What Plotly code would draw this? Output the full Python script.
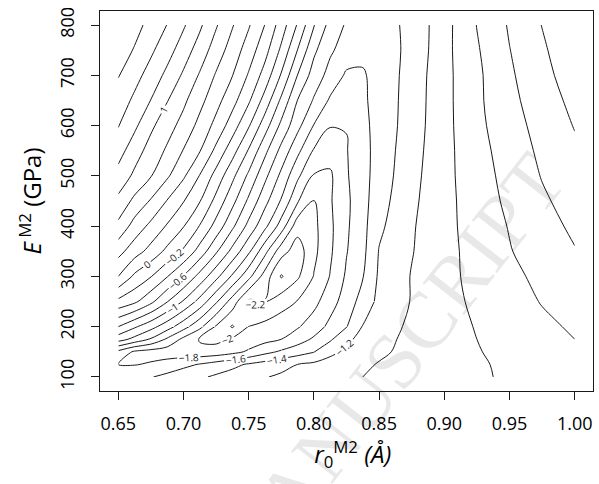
import plotly.graph_objects as go

# grid of r0 (Angstrom) and E (GPa); values estimated from the reference contours
r0 = [0.65, 0.6625, 0.675, 0.6875, 0.70, 0.7125, 0.725, 0.7375, 0.75, 0.7625, 0.775,
      0.7875, 0.80, 0.8125, 0.825, 0.8375, 0.85, 0.875, 0.90, 0.925, 0.95, 0.975, 1.00]
E = [100, 125, 150, 175, 200, 250, 300, 350, 400, 450, 500, 550, 600, 650, 700, 750, 800]

z_E100 = [-1.70, -1.65, -1.61, -1.55, -1.49, -1.43, -1.37, -1.32, -1.26, -1.21, -1.17, -1.14, -1.10, -1.07, -1.03, -1.00, -0.97, -0.92, -0.87, -0.82, -0.78, -0.74, -0.70]
z_E125 = [-1.80, -1.81, -1.78, -1.72, -1.65, -1.59, -1.52, -1.45, -1.38, -1.32, -1.26, -1.20, -1.16, -1.12, -1.07, -1.03, -0.99, -0.93, -0.88, -0.82, -0.77, -0.72, -0.67]
z_E150 = [-1.65, -1.83, -1.88, -1.91, -1.93, -1.94, -1.92, -1.86, -1.77, -1.66, -1.57, -1.49, -1.41, -1.25, -1.16, -1.09, -1.03, -0.95, -0.88, -0.81, -0.75, -0.69, -0.63]
z_E175 = [-1.11, -1.26, -1.42, -1.63, -1.85, -2.02, -2.05, -1.97, -1.92, -1.86, -1.80, -1.69, -1.57, -1.43, -1.24, -1.14, -1.06, -0.95, -0.88, -0.80, -0.73, -0.67, -0.60]
z_E200 = [-0.80, -0.97, -1.13, -1.31, -1.52, -1.75, -2.02, -2.22, -1.99, -1.94, -1.88, -1.82, -1.70, -1.55, -1.41, -1.19, -1.10, -0.96, -0.87, -0.79, -0.71, -0.64, -0.575]
z_E250 = [-0.25, -0.36, -0.55, -0.79, -1.02, -1.27, -1.57, -1.89, -2.24, -2.21, -2.09, -1.99, -1.86, -1.68, -1.51, -1.32, -1.15, -0.99, -0.87, -0.76, -0.68, -0.59, -0.52]
z_E300 = [0.20, -0.04, -0.19, -0.39, -0.61, -0.87, -1.14, -1.43, -1.74, -2.09, -2.42, -2.23, -1.99, -1.79, -1.57, -1.41, -1.17, -0.99, -0.86, -0.74, -0.65, -0.55, -0.465]
z_E350 = [0.47, 0.29, 0.13, -0.05, -0.23, -0.48, -0.77, -1.06, -1.36, -1.74, -2.12, -2.30, -2.05, -1.83, -1.61, -1.45, -1.19, -1.01, -0.86, -0.73, -0.61, -0.51, -0.41]
z_E400 = [0.75, 0.52, 0.35, 0.18, 0.01, -0.21, -0.47, -0.76, -1.06, -1.35, -1.69, -2.12, -2.05, -1.84, -1.63, -1.46, -1.24, -1.02, -0.86, -0.71, -0.59, -0.47, -0.365]
z_E450 = [0.95, 0.75, 0.58, 0.39, 0.21, 0.01, -0.26, -0.54, -0.84, -1.14, -1.42, -1.78, -2.01, -1.82, -1.64, -1.47, -1.28, -1.04, -0.86, -0.70, -0.56, -0.43, -0.32]
z_E500 = [1.13, 0.96, 0.81, 0.63, 0.43, 0.19, -0.07, -0.35, -0.64, -0.95, -1.25, -1.56, -1.82, -1.83, -1.62, -1.47, -1.31, -1.06, -0.86, -0.68, -0.54, -0.39, -0.28]
z_E550 = [1.28, 1.09, 0.92, 0.77, 0.59, 0.41, 0.15, -0.12, -0.42, -0.75, -1.06, -1.35, -1.62, -1.72, -1.61, -1.47, -1.32, -1.08, -0.86, -0.67, -0.51, -0.36, -0.235]
z_E600 = [1.41, 1.24, 1.04, 0.88, 0.73, 0.54, 0.34, 0.10, -0.18, -0.51, -0.85, -1.14, -1.41, -1.59, -1.595, -1.45, -1.33, -1.10, -0.86, -0.65, -0.48, -0.33, -0.19]
z_E650 = [1.51, 1.36, 1.195, 1.01, 0.84, 0.66, 0.47, 0.27, 0.03, -0.28, -0.64, -1.005, -1.22, -1.43, -1.51, -1.43, -1.33, -1.11, -0.86, -0.64, -0.45, -0.30, -0.145]
z_E700 = [1.61, 1.47, 1.32, 1.15, 0.97, 0.78, 0.58, 0.405, 0.18, -0.08, -0.42, -0.805, -1.09, -1.27, -1.43, -1.42, -1.33, -1.12, -0.86, -0.64, -0.43, -0.26, -0.10]
z_E750 = [1.70, 1.585, 1.435, 1.28, 1.10, 0.91, 0.705, 0.51, 0.305, 0.07, -0.24, -0.605, -0.96, -1.17, -1.29, -1.355, -1.30, -1.15, -0.86, -0.62, -0.405, -0.23, -0.06]
z_E800 = [1.78, 1.665, 1.54, 1.395, 1.225, 1.035, 0.82, 0.615, 0.42, 0.195, -0.095, -0.42, -0.79, -1.07, -1.225, -1.30, -1.285, -1.15, -0.87, -0.595, -0.38, -0.195, -0.02]

z = [z_E100, z_E125, z_E150, z_E175, z_E200, z_E250, z_E300, z_E350, z_E400,
     z_E450, z_E500, z_E550, z_E600, z_E650, z_E700, z_E750, z_E800]

# contour levels drawn (step 0.2)
contour_levels = [-2.4, -2.2, -2.0, -1.8, -1.6, -1.4, -1.2, -1.0, -0.8, -0.6, -0.4,
                  -0.2, 0.0, 0.2, 0.4, 0.6, 0.8, 1.0, 1.2, 1.4, 1.6]
# labelled levels and the part of the grid (r0 from-to, E from-to) whose branch carries the label
label_regions = {
    1.0: (0.65, 1.00, 100, 800),
    0.0: (0.65, 1.00, 100, 800),
    -0.2: (0.65, 0.825, 100, 800),
    -0.6: (0.65, 0.825, 100, 800),
    -1.0: (0.65, 0.825, 100, 800),
    -1.2: (0.65, 1.00, 100, 250),
    -1.4: (0.65, 0.80, 100, 200),
    -1.6: (0.65, 0.775, 100, 200),
    -1.8: (0.65, 0.75, 100, 200),
    -2.0: (0.70, 0.7625, 150, 200),
    -2.2: (0.65, 1.00, 100, 800),
}

x_ticks = [0.65, 0.70, 0.75, 0.80, 0.85, 0.90, 0.95, 1.00]
y_ticks = [100, 200, 300, 400, 500, 600, 700, 800]

FONT = "Open Sans"
INK = "#1a1a1a"


def idx(seq, v):
    return min(range(len(seq)), key=lambda i: abs(seq[i] - v))


def level_trace(c_a, c_b, r_a, r_b, lv, labels):
    xs = r0[c_a:c_b + 1]
    ys = E[r_a:r_b + 1]
    zs = [row[c_a:c_b + 1] for row in z[r_a:r_b + 1]]
    return go.Contour(
        x=xs, y=ys, z=zs,
        autocontour=False,
        contours=dict(start=lv, end=lv + 0.01, size=0.2, coloring="none",
                      showlabels=labels,
                      labelfont=dict(family=FONT, size=10, color=INK)),
        line=dict(width=1, smoothing=1, color=INK),
        showscale=False, hoverinfo="skip",
    )


fig = go.Figure()
last_c, last_r = len(r0) - 1, len(E) - 1
for lv in contour_levels:
    key = next((k for k in label_regions if abs(k - lv) < 1e-9), None)
    if key is None:
        fig.add_trace(level_trace(0, last_c, 0, last_r, lv, False))
        continue
    xa, xb, ya, yb = label_regions[key]
    ca, cb, ra, rb = idx(r0, xa), idx(r0, xb), idx(E, ya), idx(E, yb)
    fig.add_trace(level_trace(ca, cb, ra, rb, lv, True))
    if ra > 0:
        fig.add_trace(level_trace(0, last_c, 0, ra, lv, False))
    if rb < last_r:
        fig.add_trace(level_trace(0, last_c, rb, last_r, lv, False))
    if ca > 0:
        fig.add_trace(level_trace(0, ca, ra, rb, lv, False))
    if cb < last_c:
        fig.add_trace(level_trace(cb, last_c, ra, rb, lv, False))

fig.add_annotation(
    text="ACCEPTED MANUSCRIPT", xref="paper", yref="paper",
    x=0.316, y=-0.387, xanchor="center", yanchor="middle",
    showarrow=False, textangle=-52,
    font=dict(family="Liberation Serif", size=80, color="rgba(0,0,0,0.09)"),
)

axis_common = dict(showline=True, mirror=True, linecolor=INK, linewidth=1,
                   ticks="outside", ticklen=8, tickwidth=1, tickcolor=INK,
                   showgrid=False, zeroline=False,
                   tickfont=dict(family=FONT, size=18, color="black"))

fig.update_layout(
    width=599, height=484,
    margin=dict(l=100, r=6, t=11, b=93),
    paper_bgcolor="white", plot_bgcolor="white",
    showlegend=False,
    xaxis=dict(range=[0.636, 1.014], tickvals=x_ticks, tickformat=".2f",
               ticklabelstandoff=8,
               title=dict(text="&nbsp;&nbsp;<i>r</i><sub>0</sub><sup>M2</sup> <i>(Å)</i>",
                          font=dict(family=FONT, size=24, color="black"), standoff=12),
               **axis_common),
    yaxis=dict(range=[72, 828], tickvals=y_ticks, tickangle=-90,
               ticklabelstandoff=10,
               title=dict(text="<i>E</i><sup> M2</sup> (GPa)",
                          font=dict(family=FONT, size=24, color="black"), standoff=6),
               **axis_common),
)

fig.write_html("out.html")
